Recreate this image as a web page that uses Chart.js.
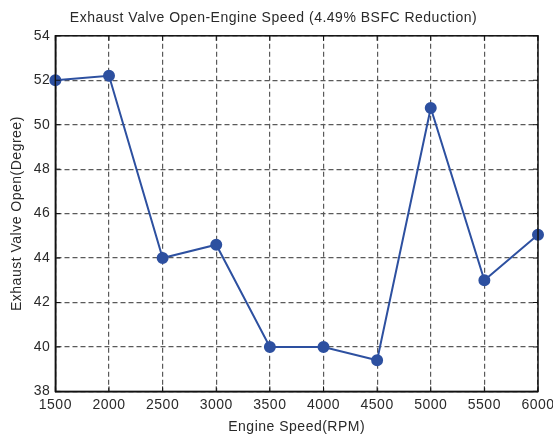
<!DOCTYPE html>
<html>
<head>
<meta charset="utf-8">
<script src="https://cdn.jsdelivr.net/npm/chart.js@4.4.1/dist/chart.umd.min.js"></script>
<style>
    html, body { margin: 0; padding: 0; background: #fff; }
    #wrap { width: 553px; height: 438px; position: relative; }
</style>
</head>
<body>
<div id="wrap"><canvas id="chart"></canvas></div>
<script>
const engineSpeeds = [1500, 2000, 2500, 3000, 3500, 4000, 4500, 5000, 5500, 6000];
const valveOpen = [52.0, 52.2, 44.0, 44.6, 40.0, 40.0, 39.4, 50.75, 43.0, 45.05];
const xTicks = [1500, 2000, 2500, 3000, 3500, 4000, 4500, 5000, 5500, 6000];
const yTicks = [38, 40, 42, 44, 46, 48, 50, 52, 54];

const FONT = 'Liberation Sans, Arial, sans-serif';
const TEXT = '#2a2a2a';
const lineColor = '#2d50a0';
const LS = '0.5px';

// wider letters like the original
const spacing = {
    id: 'spacing',
    beforeInit(chart) { chart.ctx.letterSpacing = LS; },
    beforeUpdate(chart) { chart.ctx.letterSpacing = LS; },
    beforeDraw(chart) { chart.ctx.letterSpacing = LS; }
};

// full box round the plot area with short inward ticks
const frameBox = {
    id: 'frameBox',
    afterDatasetsDraw(chart) {
        const { ctx, chartArea: a, scales } = chart;
        ctx.save();
        ctx.strokeStyle = '#111';
        ctx.lineWidth = 1.5;
        ctx.setLineDash([]);
        ctx.strokeRect(a.left, a.top, a.right - a.left, a.bottom - a.top);
        ctx.lineWidth = 1;
        ctx.beginPath();
        xTicks.forEach(v => {
            const px = scales.x.getPixelForValue(v);
            ctx.moveTo(px, a.bottom); ctx.lineTo(px, a.bottom - 5);
            ctx.moveTo(px, a.top); ctx.lineTo(px, a.top + 5);
        });
        yTicks.forEach(v => {
            const py = scales.y.getPixelForValue(v);
            ctx.moveTo(a.left, py); ctx.lineTo(a.left + 5, py);
            ctx.moveTo(a.right, py); ctx.lineTo(a.right - 5, py);
        });
        ctx.stroke();
        ctx.restore();
    }
};

new Chart(document.getElementById('chart'), {
    type: 'line',
    data: {
        datasets: [{
            label: 'Exhaust Valve Open',
            data: engineSpeeds.map((s, i) => ({ x: s, y: valveOpen[i] })),
            borderColor: lineColor,
            backgroundColor: lineColor,
            borderWidth: 2,
            pointRadius: 5,
            pointHoverRadius: 5,
            tension: 0,
            fill: false,
            clip: false
        }]
    },
    options: {
        responsive: true,
        maintainAspectRatio: false,
        animation: false,
        layout: { padding: { left: 9, right: 15, top: 2, bottom: 2 } },
        plugins: {
            legend: { display: false },
            tooltip: { enabled: false },
            title: {
                display: true,
                text: 'Exhaust Valve Open-Engine Speed (4.49% BSFC Reduction)',
                color: TEXT,
                font: { family: FONT, size: 14, weight: 'normal' },
                padding: { top: 8, bottom: 9 }
            }
        },
        scales: {
            x: {
                type: 'linear',
                min: 1500,
                max: 6000,
                afterBuildTicks: axis => { axis.ticks = xTicks.map(v => ({ value: v })); },
                // let the last label run past the edge, as in the original
                afterFit: axis => { axis.paddingRight = 0; },
                grid: { color: '#5a5a5a', lineWidth: 1.2, drawTicks: true, tickLength: 1, tickColor: 'rgba(0,0,0,0)' },
                border: { display: true, color: '#111', width: 1.5, dash: [5, 3] },
                ticks: { color: TEXT, font: { family: FONT, size: 14 }, padding: 4, maxRotation: 0, callback: v => String(v) },
                title: { display: true, text: 'Engine Speed(RPM)', color: TEXT, font: { family: FONT, size: 14 }, padding: { top: 2, bottom: 0 } }
            },
            y: {
                min: 38,
                max: 54,
                afterBuildTicks: axis => { axis.ticks = yTicks.map(v => ({ value: v })); },
                grid: { color: '#5a5a5a', lineWidth: 1.2, drawTicks: true, tickLength: 3, tickColor: 'rgba(0,0,0,0)' },
                border: { display: true, color: '#111', width: 1.5, dash: [5, 3] },
                ticks: { color: TEXT, font: { family: FONT, size: 14 }, padding: 2, callback: v => String(v) },
                title: { display: true, text: 'Exhaust Valve Open(Degree)', color: TEXT, font: { family: FONT, size: 14 }, padding: { top: 0, bottom: 6 } }
            }
        }
    },
    plugins: [spacing, frameBox]
});
</script>
</body>
</html>
